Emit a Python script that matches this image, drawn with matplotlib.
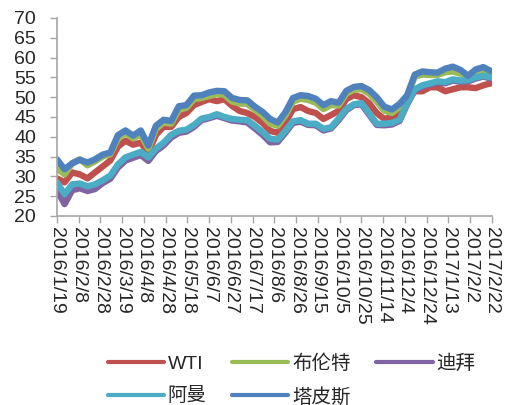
import pandas as pd
import matplotlib
matplotlib.use("Agg")
from matplotlib import pyplot as plt

# weekly readings, 2016/1/19 .. 2017/2/21
wti = [29.5, 28.5, 31.0, 30.5, 29.5, 31.0, 32.5, 34.0, 37.5, 39.0,
       38.0, 38.5, 36.0, 40.5, 42.5, 42.5, 45.0, 46.0, 48.0, 48.8,
       49.5, 49.0, 49.5, 47.8, 46.5, 46.0, 45.0, 43.5, 41.5, 41.0,
       43.5, 47.0, 47.5, 46.5, 46.0, 44.5, 45.5, 46.5, 49.5, 50.5,
       50.0, 48.5, 46.0, 44.5, 45.0, 45.5, 49.5, 51.5, 51.5, 52.5,
       52.5, 51.5, 52.0, 52.5, 52.5, 52.3, 53.0, 53.5]
brent = [32.0, 30.5, 33.3, 34.3, 32.8, 33.8, 35.0, 35.6, 39.5, 41.0,
         39.6, 40.6, 37.0, 42.0, 43.6, 43.3, 46.8, 47.3, 49.5, 49.8,
         50.3, 50.8, 50.6, 48.9, 48.4, 48.3, 46.8, 45.3, 43.3, 42.8,
         45.4, 48.9, 49.6, 49.3, 48.6, 47.0, 48.0, 47.9, 50.9, 51.9,
         52.0, 50.9, 48.9, 46.6, 46.0, 47.5, 50.2, 55.2, 55.7, 55.6,
         55.6, 56.3, 56.5, 55.9, 55.0, 56.1, 56.7, 55.9]
dubai = [26.5, 23.0, 26.5, 27.0, 26.3, 26.8, 28.3, 29.4, 32.2, 34.0,
         34.7, 35.4, 33.9, 36.4, 37.8, 39.8, 41.0, 41.3, 42.5, 44.2,
         44.7, 45.3, 44.7, 44.1, 43.9, 43.6, 42.1, 40.5, 38.6, 38.7,
         41.0, 43.5, 43.8, 43.0, 42.9, 41.6, 42.1, 44.2, 46.7, 48.0,
         48.2, 45.6, 43.0, 42.9, 43.1, 44.0, 48.2, 51.7, 52.7, 53.2,
         53.7, 53.5, 54.2, 53.9, 54.0, 54.7, 55.2, 54.7]
oman = [28.5, 25.5, 28.0, 28.2, 27.5, 28.0, 29.0, 30.2, 33.0, 34.8,
        35.5, 36.2, 34.8, 37.0, 38.5, 40.5, 41.5, 41.8, 43.0, 44.6,
        45.0, 45.7, 45.0, 44.5, 44.3, 44.2, 42.8, 41.2, 39.5, 39.3,
        41.5, 43.9, 44.2, 43.3, 43.3, 42.0, 42.4, 44.6, 47.0, 48.2,
        48.5, 46.0, 43.3, 43.3, 43.5, 44.3, 48.5, 52.0, 53.0, 53.5,
        54.0, 53.8, 54.5, 54.2, 54.3, 55.0, 55.4, 55.0]
tapis = [34.3, 31.8, 33.3, 34.2, 33.5, 34.3, 35.5, 36.0, 40.4, 41.6,
         40.3, 41.6, 37.8, 42.8, 44.3, 44.0, 47.7, 48.0, 50.4, 50.5,
         51.2, 51.6, 51.5, 49.8, 49.3, 49.2, 47.6, 46.3, 44.5, 43.6,
         46.2, 49.8, 50.5, 50.3, 49.6, 48.0, 49.0, 48.6, 51.6, 52.6,
         52.8, 51.8, 50.0, 47.6, 46.9, 48.3, 50.5, 55.7, 56.5, 56.3,
         56.2, 57.2, 57.7, 56.9, 55.4, 57.0, 57.6, 56.6]

names = ["WTI", "布伦特", "迪拜", "阿曼", "塔皮斯"]
colors = ["#C0504D", "#9BBB59", "#8064A2", "#4BACC6", "#4F81BD"]

dates = pd.date_range("2016-01-19", periods=len(wti), freq="7D")
ticks = pd.date_range("2016-01-19", "2017-02-22", freq="20D")
tick_labels = ["{}/{}/{}".format(d.year, d.month, d.day) for d in ticks]

fig = plt.figure(figsize=(5.06, 4.05), dpi=100)
ax = fig.add_axes([0.1126, 0.4667, 0.8597, 0.4889])

lines = []
for vals, name, c in zip([wti, brent, dubai, oman, tapis], names, colors):
    ln, = ax.plot(dates, vals, color=c, lw=4.6, label=name,
                  solid_joinstyle="round", solid_capstyle="round")
    lines.append(ln)

ax.set_ylim(20, 70)
ax.set_yticks(range(20, 71, 5))
ax.set_xlim(ticks[0], ticks[-1])
ax.set_xticks(ticks)
ax.set_xticklabels(tick_labels, rotation=-90, ha="center", va="top")

for s in ["top", "right"]:
    ax.spines[s].set_visible(False)
for s in ["left", "bottom"]:
    ax.spines[s].set_color("#a6a6a6")
    ax.spines[s].set_linewidth(1.2)
ax.tick_params(axis="both", colors="#a6a6a6", length=5, width=1.0)
ax.tick_params(axis="y", labelsize=14, labelcolor="#262626", pad=10)
ax.tick_params(axis="x", labelsize=14, labelcolor="#262626", pad=3)
for lab in ax.get_xticklabels() + ax.get_yticklabels():
    lab.set_family(["Liberation Sans", "DejaVu Sans"])

# legend fills column by column, so reorder to get rows WTI/布伦特/迪拜 and 阿曼/塔皮斯
order = [0, 3, 1, 4, 2]
leg = fig.legend([lines[i] for i in order], [names[i] for i in order],
                 loc="center", bbox_to_anchor=(0.576, 0.061), ncol=3,
                 frameon=False, handlelength=2.9, handletextpad=0.2,
                 columnspacing=1.3, labelspacing=0.75,
                 prop={"family": ["Liberation Sans", "Noto Sans CJK SC"], "size": 14})
for t in leg.get_texts():
    t.set_color("#262626")
for h in leg.get_lines():
    h.set_linewidth(3)

fig.savefig("out.png", dpi=100)
